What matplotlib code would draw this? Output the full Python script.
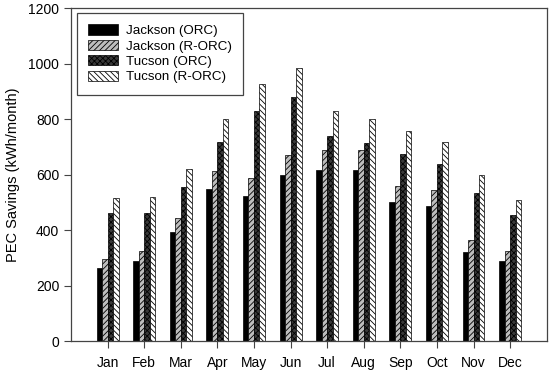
import numpy as np
import matplotlib
matplotlib.use('Agg')
import matplotlib.pyplot as plt

plt.rcParams['font.family'] = ['Liberation Sans', 'DejaVu Sans']
plt.rcParams['hatch.linewidth'] = 0.6

months = ['Jan', 'Feb', 'Mar', 'Apr', 'May', 'Jun',
          'Jul', 'Aug', 'Sep', 'Oct', 'Nov', 'Dec']
jackson_orc = [265, 290, 395, 548, 522, 597, 615, 618, 500, 487, 322, 290]
jackson_rorc = [295, 325, 445, 612, 587, 670, 688, 690, 560, 545, 363, 325]
tucson_orc = [460, 460, 555, 718, 828, 880, 740, 715, 675, 640, 533, 453]
tucson_rorc = [515, 518, 620, 800, 925, 985, 828, 800, 758, 718, 597, 507]

series = [
    ('Jackson (ORC)', jackson_orc, 'black', None),
    ('Jackson (R-ORC)', jackson_rorc, '#bdbdbd', '//////'),
    ('Tucson (ORC)', tucson_orc, '#3a3a3a', 'xxxxxx'),
    ('Tucson (R-ORC)', tucson_rorc, 'white', '\\\\\\\\\\\\'),
]

fig = plt.figure(figsize=(5.5, 3.7), dpi=100)
ax = fig.add_axes([0.129, 0.078, 0.865, 0.9])

x = np.arange(len(months))
w = 0.15
for i, (name, vals, fc, hatch) in enumerate(series):
    ax.bar(x + (i - 1.5) * w, vals, w, color=fc, edgecolor='black',
           linewidth=0.5, hatch=hatch, label=name)

ax.set_xlim(-1.0, 12.0)
ax.set_ylim(0, 1200)
ax.set_yticks(range(0, 1201, 200))
ax.set_xticks(x)
ax.set_xticklabels(months)
ax.tick_params(direction='out', length=5, labelsize=10, width=0.8,
               color='#444444')
ax.tick_params(axis='x', pad=6)
ax.set_ylabel('PEC Savings (kWh/month)', fontsize=10.5, labelpad=6)
for s in ax.spines.values():
    s.set_linewidth(0.9)
    s.set_color('#444444')

leg = ax.legend(loc='upper left', bbox_to_anchor=(0.013, 0.985), fontsize=9.6,
                fancybox=False, framealpha=1, edgecolor='#444444',
                handlelength=2.2, handleheight=0.8, labelspacing=0.2,
                borderpad=0.85, handletextpad=0.6, borderaxespad=0)
leg.get_frame().set_linewidth(0.9)

fig.savefig('out.png', dpi=100)
